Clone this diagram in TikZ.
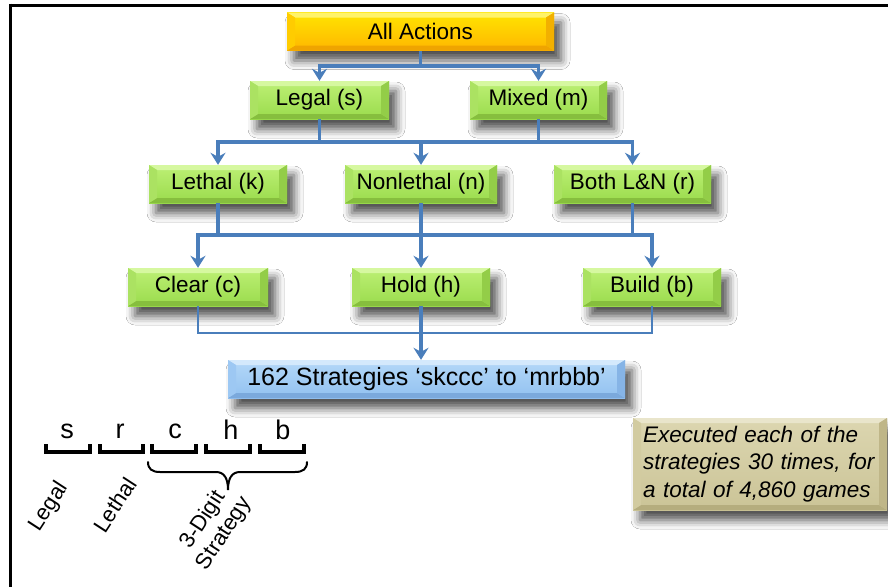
\documentclass[tikz,border=0pt]{standalone}
\usepackage{fontspec}
\setmainfont{Liberation Sans}
\usetikzlibrary{arrows.meta,shadows.blur}

% palette
\definecolor{linkblue}{HTML}{4A7EBB}
\definecolor{grnTop}{HTML}{BDF075}\definecolor{grnBot}{HTML}{9ADB4C}
\definecolor{grnHi}{HTML}{D6F8A0}\definecolor{grnLo}{HTML}{86BE3E}
\definecolor{grnL}{HTML}{ABE262}\definecolor{grnR}{HTML}{93CD48}
\definecolor{ylwTop}{HTML}{FFE500}\definecolor{ylwBot}{HTML}{FFB600}
\definecolor{ylwHi}{HTML}{FFF36A}\definecolor{ylwLo}{HTML}{EFA400}
\definecolor{ylwL}{HTML}{FFCC00}\definecolor{ylwR}{HTML}{F2B000}
\definecolor{bluTop}{HTML}{B4D8F8}\definecolor{bluBot}{HTML}{92C1F0}
\definecolor{bluHi}{HTML}{D4E9FC}\definecolor{bluLo}{HTML}{7BA9DC}
\definecolor{bluL}{HTML}{9DC8F3}\definecolor{bluR}{HTML}{86B4E6}
\definecolor{tanTop}{HTML}{DCD6B0}\definecolor{tanBot}{HTML}{CBC497}
\definecolor{tanHi}{HTML}{E9E5CB}\definecolor{tanLo}{HTML}{B5AD7E}
\definecolor{tanL}{HTML}{D2CBA0}\definecolor{tanR}{HTML}{BFB688}

\tikzset{
  x=1pt, y=1pt,
  % bevelled face: top, bottom, left, right strips
  bevel/.style n args={4}{path picture={
    \fill[#1] (path picture bounding box.north west) -- (path picture bounding box.north east)
      -- ([shift={(-8pt,-5pt)}]path picture bounding box.north east)
      -- ([shift={(8pt,-5pt)}]path picture bounding box.north west) -- cycle;
    \fill[#2] (path picture bounding box.south west) -- (path picture bounding box.south east)
      -- ([shift={(-8pt,5pt)}]path picture bounding box.south east)
      -- ([shift={(8pt,5pt)}]path picture bounding box.south west) -- cycle;
    \fill[#3] (path picture bounding box.north west)
      -- ([shift={(8pt,-5pt)}]path picture bounding box.north west)
      -- ([shift={(8pt,5pt)}]path picture bounding box.south west)
      -- (path picture bounding box.south west) -- cycle;
    \fill[#4] (path picture bounding box.north east)
      -- ([shift={(-8pt,-5pt)}]path picture bounding box.north east)
      -- ([shift={(-8pt,5pt)}]path picture bounding box.south east)
      -- (path picture bounding box.south east) -- cycle;
  }},
  box/.style={rectangle, minimum height=38pt, inner sep=0pt, text=black,
    font=\fontsize{22.5}{27}\selectfont,
    blur shadow={shadow xshift=7pt, shadow yshift=-10pt, shadow blur radius=9pt, shadow opacity=70}},
  greenbox/.style={box, minimum width=#1, top color=grnTop, bottom color=grnBot,
    bevel={grnHi}{grnLo}{grnL}{grnR}},
  yellowbox/.style={box, minimum width=#1, top color=ylwTop, bottom color=ylwBot,
    bevel={ylwHi}{ylwLo}{ylwL}{ylwR}},
  bluebox/.style={box, minimum width=#1, top color=bluTop, bottom color=bluBot,
    bevel={bluHi}{bluLo}{bluL}{bluR}},
  tanbox/.style={box, minimum width=#1, top color=tanTop, bottom color=tanBot,
    bevel={tanHi}{tanLo}{tanL}{tanR}},
  conn/.style={draw=linkblue, line width=3.6pt},
  thinconn/.style={draw=linkblue, line width=2.6pt},
  arr/.style={-{Stealth[length=12pt,width=15pt,inset=4pt]}},
  letter/.style={font=\fontsize{27}{31}\selectfont, inner sep=0pt},
  slanted/.style={font=\fontsize{22}{25}\selectfont, rotate=57, align=center, inner sep=0pt},
  bracketline/.style={line width=3.6pt, line cap=butt, line join=miter},
}

\begin{document}
\begin{tikzpicture}
\useasboundingbox (0,0) rectangle (888,-587);
\fill[white] (0,0) rectangle (888,-587);

% page frame
\draw[line width=3pt] (9,-5) -- (888,-5);
\draw[line width=3pt] (10,-3.5) -- (10,-587);

% tree of actions
\node[yellowbox=267pt] (all)     at (420.5,-31.5) {All Actions};
\node[greenbox=139pt]  (legal)   at (319.5,-100)  {Legal (s)};
\node[greenbox=137pt]  (mixed)   at (538.5,-100)  {Mixed (m)};
\node[greenbox=138pt]  (lethal)  at (218,-184)    {Lethal (k)};
\node[greenbox=152pt]  (nonleth) at (421,-184)    {Nonlethal (n)};
\node[greenbox=157pt]  (both)    at (632.5,-184)  {Both L\&N (r)};
\node[greenbox=140pt]  (clear)   at (198,-287)    {Clear (c)};
\node[greenbox=138pt]  (hold)    at (421,-287)    {Hold (h)};
\node[greenbox=138pt]  (build)   at (652,-287)    {Build (b)};
\node[bluebox=397pt, font=\fontsize{25}{30}\selectfont] (strat) at (426.5,-379)
  {162 Strategies ‘skccc’ to ‘mrbbb’};
\node[tanbox=254pt, minimum height=92pt, text width=234pt, align=left,
      font=\fontsize{22.5}{27.5}\selectfont\itshape] (exec) at (760,-464)
  {Executed each of the\\strategies 30 times, for\\a total of 4,860 games};

% junction heights of the connector bars
\coordinate (bar1) at (0,-66);
\coordinate (bar2) at (0,-142);
\coordinate (bar3) at (0,-235);
\coordinate (bar4) at (0,-333);

% connectors
\draw[conn] (all.south) -- (all.south |- bar1);
\draw[conn,arr] (all.south |- bar1) -| (legal.north);
\draw[conn,arr] (all.south |- bar1) -| (mixed.north);

\draw[conn] (lethal.north |- bar2) -- (both.north |- bar2);
\draw[conn,arr] (legal.south) |- (lethal.north |- bar2) -- (lethal.north);
\draw[conn,arr] (mixed.south) |- (both.north |- bar2) -- (both.north);
\draw[conn,arr] (nonleth.north |- bar2) -- (nonleth.north);

\draw[conn] (clear.north |- bar3) -- (build.north |- bar3);
\draw[conn,arr] (lethal.south) |- (clear.north |- bar3) -- (clear.north);
\draw[conn,arr] (both.south) |- (build.north |- bar3) -- (build.north);
\draw[conn,arr] (nonleth.south) -- (hold.north);

\draw[thinconn] (clear.south) |- (build.south |- bar4) -- (build.south);
\draw[conn,arr] (hold.south) -- (hold.south |- strat.north);

% strategy code legend
\node[letter] (ls) at (67,-431) {s};
\node[letter] (lr) at (120,-431) {r};
\node[letter] (lc) at (175,-431) {c};
\node[letter] (lh) at (231,-430) {h};
\node[letter] (lb) at (283,-430) {b};

\draw[bracketline] (46,-444) -- (46,-452) -- (90,-452) -- (90,-444);
\draw[bracketline] (100,-444) -- (100,-452) -- (143,-452) -- (143,-444);
\draw[bracketline] (152,-444) -- (152,-452) -- (196,-452) -- (196,-444);
\draw[bracketline] (206,-444) -- (206,-452) -- (250,-452) -- (250,-444);
\draw[bracketline] (260,-444) -- (260,-452) -- (304,-452) -- (304,-444);

% brace under the three strategy digits
\draw[line width=2pt, line cap=round]
  (148,-462) .. controls (148,-469) and (152,-472) .. (160,-472) -- (216,-472)
  .. controls (224,-472) and (228,-478) .. (228,-490)
  .. controls (228,-478) and (232,-472) .. (240,-472) -- (295,-472)
  .. controls (303,-472) and (307,-469) .. (307,-462);

\node[slanted] (tlegal)  at (49,-507)  {Legal};
\node[slanted] (tlethal) at (115,-505) {Lethal};
\node[slanted] (tdigit)  at (214,-527) {3-Digit\\Strategy};
\end{tikzpicture}
\end{document}
